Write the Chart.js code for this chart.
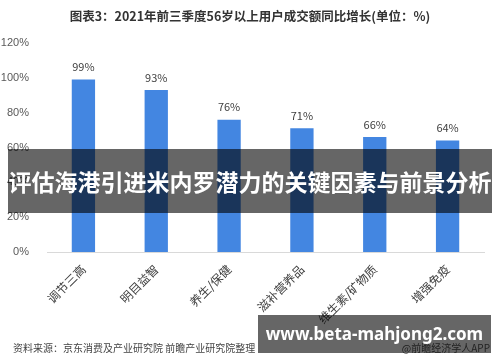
<!DOCTYPE html>
<html lang="zh">
<head>
  <meta charset="UTF-8">
  <title>2021年前三季度56岁以上用户成交额同比增长</title>
  <script src="https://cdn.jsdelivr.net/npm/chart.js"></script>
  <style>
    body { margin: 0; background: #fff; font-family: "Noto Sans CJK SC", sans-serif; }
    #wrap { position: relative; width: 500px; height: 362px; overflow: hidden; }
    #title { position: absolute; left: 0; top: 6px; width: 500px; text-align: center; font-size: 12.5px; font-weight: bold; color: #333; }
    #source { position: absolute; left: 13px; top: 340px; font-size: 10px; color: #444; white-space: nowrap; }
    #app { position: absolute; right: 10px; top: 340px; font-size: 10px; color: #555; white-space: nowrap; }
    #banner {
      position: absolute; left: 8px; top: 149px; width: 484px; height: 64px;
      background: rgba(0, 0, 0, 0.6); color: #fff; font-weight: bold; font-size: 23px;
      line-height: 64px; text-align: center; white-space: nowrap;
    }
    #site {
      position: absolute; left: 258px; top: 315px; width: 233px; height: 38px;
      background: rgba(0, 0, 0, 0.6); color: #fff; font-weight: bold; font-size: 17px;
      font-family: "Noto Sans", sans-serif; line-height: 38px; text-align: center; white-space: nowrap;
    }
  </style>
</head>
<body>
<div id="wrap">
  <canvas id="chart" width="500" height="362"></canvas>
  <div id="title">图表3：2021年前三季度56岁以上用户成交额同比增长(单位：%)</div>
  <div id="source">资料来源：京东消费及产业研究院 前瞻产业研究院整理</div>
  <div id="app">@前瞻经济学人APP</div>
  <div id="banner">评估海港引进米内罗潜力的关键因素与前景分析</div>
  <div id="site">www.beta-mahjong2.com</div>
</div>

<script>
  // 数据
  const categories = ['调节三高', '明目益智', '养生/保健', '滋补营养品', '维生素/矿物质', '增强免疫'];
  const growth = [99, 93, 76, 71, 66, 64];
  const yTicks = [0, 20, 40, 60, 80, 100, 120];

  // 柱顶数值标签
  const valueLabels = {
    id: 'valueLabels',
    afterDatasetsDraw(chart) {
      const c = chart.ctx;
      const meta = chart.getDatasetMeta(0);
      c.save();
      c.font = '11px "Noto Sans CJK SC", sans-serif';
      c.fillStyle = '#404040';
      c.textAlign = 'center';
      c.textBaseline = 'bottom';
      meta.data.forEach((bar, i) => {
        c.fillText(growth[i] + '%', bar.x, bar.y - 7);
      });
      c.restore();
    }
  };

  const ctx = document.getElementById('chart').getContext('2d');
  new Chart(ctx, {
    type: 'bar',
    data: {
      labels: categories,
      datasets: [{
        data: growth,
        backgroundColor: '#4386e1',
        categoryPercentage: 1,
        barPercentage: 0.32
      }]
    },
    options: {
      responsive: false,
      animation: false,
      layout: { padding: { left: 0, right: 16, top: 43, bottom: 0 } },
      plugins: {
        legend: { display: false },
        tooltip: { enabled: false },
        title: { display: false }
      },
      scales: {
        x: {
          grid: { display: false },
          border: { display: true, color: '#d9d9d9' },
          ticks: {
            color: '#404040',
            font: { size: 12, family: '"Noto Sans CJK SC", sans-serif' },
            minRotation: 45,
            maxRotation: 45,
            padding: 2
          },
          afterFit(scale) { scale.height = 110; }
        },
        y: {
          min: 0,
          max: 120,
          grid: { display: false },
          border: { display: false },
          afterBuildTicks(scale) { scale.ticks = yTicks.map(v => ({ value: v })); },
          ticks: {
            color: '#595959',
            font: { size: 11, family: '"Liberation Sans", sans-serif' },
            padding: 10,
            callback: v => v + '%'
          },
          afterFit(scale) { scale.width = 47; }
        }
      }
    },
    plugins: [valueLabels]
  });
</script>
</body>
</html>
